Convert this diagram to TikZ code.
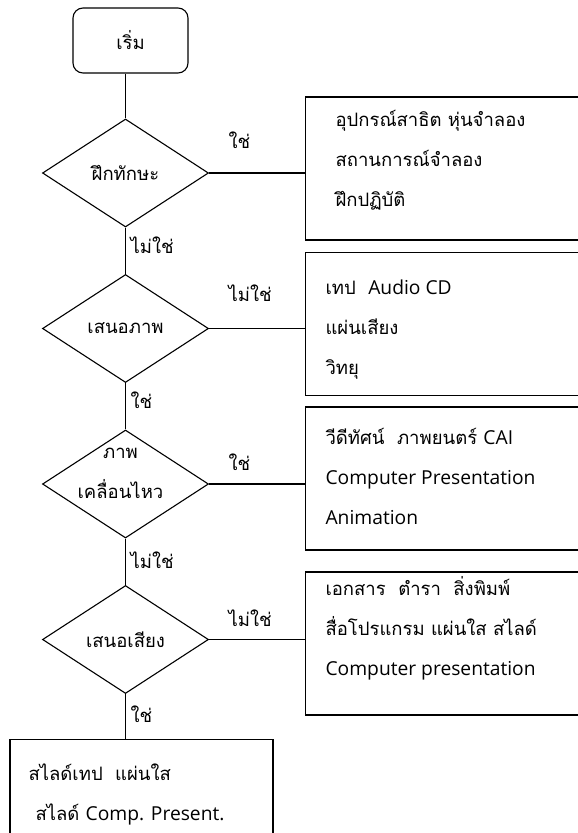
\documentclass[tikz,border=0pt]{standalone}
\usepackage{fontspec}
\setmainfont[Script=Thai]{Loma}
\newfontfamily\latinfont[Scale=1.04]{Open Sans}
\newcommand{\lat}[1]{{\latinfont #1}}
\usetikzlibrary{shapes.geometric,positioning}

\begin{document}
\begin{tikzpicture}[x=1pt, y=-1pt, node distance=155.5pt, line width=1.1pt,
  font=\fontsize{18.5}{40}\selectfont,
  decision/.style={diamond, draw, aspect=1.54, minimum width=166pt, minimum height=108pt, inner sep=0pt},
  media/.style={rectangle, draw, minimum width=300pt, minimum height=143pt, anchor=west},
  itemlist/.style={align=left, inner sep=0pt, anchor=base west},
  answer/.style={inner sep=0pt, anchor=west}]
\useasboundingbox (0,0) rectangle (578,833);
\clip (0,0) rectangle (578,833);
\node[rectangle, rounded corners=10pt, draw, minimum width=115pt, minimum height=65pt] (start) at (130.5,40.5) {เริ่ม};
\node[decision] (d1) at (125.5,173) {ฝึกทักษะ};
\node[decision, below of=d1] (d2) {เสนอภาพ};
\node[decision, below of=d2] (d3) {};
\node[decision, below of=d3] (d4) {เสนอเสียง};
\node[align=center, inner sep=0pt] (d3text) at ([xshift=-5pt, yshift=11pt]d3.center) {ภาพ\\เคลื่อนไหว};
\node[media] (m1) at (305,168.5) {};
\node[media] (m2) at (305,324) {};
\node[media] (m3) at (305,478.5) {};
\node[media] (m4) at (305,643.5) {};
\node[draw, minimum width=263pt, minimum height=150pt, anchor=north] (stop) at (141.5,739) {};
\node[itemlist] (t1) at (335,206) {อุปกรณ์สาธิต หุ่นจำลอง\\สถานการณ์จำลอง\\ฝึกปฏิบัติ};
\node[itemlist] (t2) at (325,374) {เทป\ \ \lat{Audio CD}\\แผ่นเสียง\\วิทยุ};
\node[itemlist] (t3) at (325,524) {วีดีทัศน์\ \ ภาพยนตร์ \lat{CAI}\\\lat{Computer Presentation}\\\lat{Animation}};
\node[itemlist] (t4) at (325,675) {เอกสาร\ \ ตำรา\ \ สิ่งพิมพ์\\สื่อโปรแกรม แผ่นใส สไลด์\\\lat{Computer presentation}};
\node[itemlist] (t5) at (28,820) {สไลด์เทป\ \ แผ่นใส\\\hspace*{7pt}สไลด์ \lat{Comp. Present.}};
\draw (start.south -| d1.north) -- (d1.north);
\draw (d1.south) -- (d2.north);
\draw (d2.south) -- (d3.north);
\draw (d3.south) -- (d4.north);
\draw (d4.south) -- (d4.south |- stop.north);
\draw (d1.east) -- (d1.east -| m1.west);
\draw (d2.east) -- (d2.east -| m2.west);
\draw (d3.east) -- (d3.east -| m3.west);
\draw (d4.east) -- (d4.east -| m4.west);
\node[answer] (a1) at (228,140) {ใช่};
\node[answer] (a2) at (130,245) {ไม่ใช่};
\node[answer] (a3) at (228,293) {ไม่ใช่};
\node[answer] (a4) at (130,400) {ใช่};
\node[answer] (a5) at (228,462) {ใช่};
\node[answer] (a6) at (130,560) {ไม่ใช่};
\node[answer] (a7) at (228,618) {ไม่ใช่};
\node[answer] (a8) at (130,714) {ใช่};
\end{tikzpicture}
\end{document}
